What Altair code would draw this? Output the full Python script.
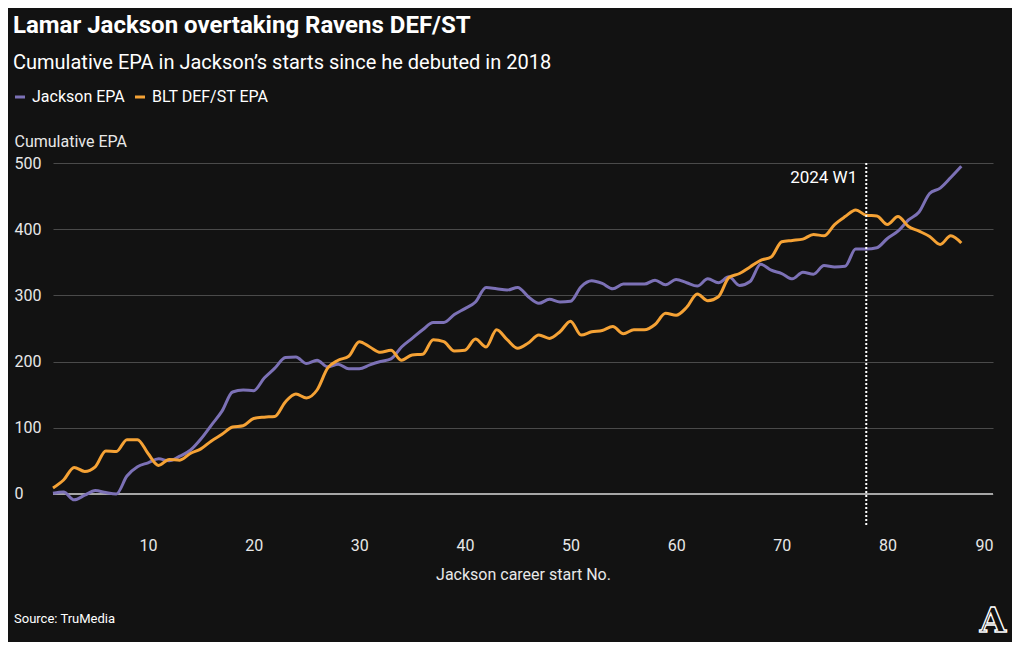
import altair as alt
import pandas as pd

starts = list(range(1, 88))

jackson_epa = [1, 3, -9, -2, 5, 2, 0, 27, 41, 47,
               53, 50, 57, 66, 83, 104, 125, 154, 157, 156,
               175, 190, 206, 207, 197, 202, 192, 196, 189, 189,
               195, 200, 204, 222, 235, 248, 259, 259, 271, 280,
               290, 312, 310, 308, 312, 298, 288, 294, 290, 291,
               313, 322, 318, 310, 317, 317, 317, 323, 316, 324,
               319, 314, 325, 319, 328, 315, 321, 347, 338, 333,
               325, 335, 332, 345, 343, 344, 370, 370, 372, 386,
               397, 414, 426, 454, 462, 478, 495]

defst_epa = [9, 21, 40, 34, 41, 65, 64, 82, 82, 61,
             43, 52, 51, 61, 68, 80, 90, 101, 103, 114,
             116, 117, 139, 151, 145, 157, 190, 202, 208, 230,
             222, 214, 217, 202, 210, 211, 233, 230, 216, 217,
             234, 222, 248, 233, 220, 228, 240, 235, 245, 261,
             240, 245, 247, 253, 242, 248, 248, 256, 273, 270,
             282, 302, 292, 298, 327, 333, 343, 353, 358, 381,
             383, 385, 392, 390, 407, 419, 429, 421, 420, 407,
             419, 404, 397, 389, 377, 390, 379]

series_names = ["Jackson EPA", "BLT DEF/ST EPA"]
series_colors = ["#7c71b6", "#f5a235"]

x_ticks = [10, 20, 30, 40, 50, 60, 70, 80, 90]
y_ticks = [0, 100, 200, 300, 400, 500]

marker_start = 78
marker_label = "2024 W1"

title_text = "Lamar Jackson overtaking Ravens DEF/ST"
subtitle_text = "Cumulative EPA in Jackson\u2019s starts since he debuted in 2018"
source_text = "Source: TruMedia"

BG = "#121212"
FONT = "Roboto"

df = pd.DataFrame({
    "start": starts * 2,
    "series": [series_names[0]] * len(starts) + [series_names[1]] * len(starts),
    "epa": jackson_epa + defst_epa,
})

x_enc = alt.X(
    "start:Q",
    scale=alt.Scale(domain=[1, 90], nice=False, zero=False),
    axis=alt.Axis(values=x_ticks, title="Jackson career start No.", grid=False,
                  ticks=False, tickSize=0, domain=False, labelPadding=10,
                  titlePadding=13, labelFontSize=16, titleFontSize=16,
                  labelColor="#e8e8e8", titleColor="#e8e8e8", titleFontWeight="normal",
                  labelFont=FONT, titleFont=FONT),
)
y_enc = alt.Y(
    "epa:Q",
    scale=alt.Scale(domain=[-50, 500], nice=False, zero=False),
    axis=alt.Axis(values=y_ticks, title="Cumulative EPA", titleAngle=0,
                  titleAlign="left", titleBaseline="middle", titleX=-39, titleY=-22,
                  labelAlign="left", labelBaseline="middle", labelPadding=39,
                  ticks=False, tickSize=0, domain=False, grid=True,
                  gridColor="#4a4a4a", gridWidth=1, labelFontSize=16,
                  titleFontSize=16, labelColor="#e8e8e8", titleColor="#e8e8e8",
                  titleFontWeight="normal", labelFont=FONT, titleFont=FONT),
)

lines = alt.Chart(df).mark_line(interpolate="monotone", strokeWidth=3).encode(
    x=x_enc,
    y=y_enc,
    color=alt.Color(
        "series:N",
        scale=alt.Scale(domain=series_names, range=series_colors),
        sort=series_names,
        legend=alt.Legend(
            title=None, orient="none", legendX=-41, legendY=-74,
            direction="horizontal", symbolType="stroke", symbolStrokeWidth=3,
            symbolSize=100, labelFontSize=16, labelColor="#ffffff", labelFont=FONT,
            labelOffset=4, columnPadding=4,
        ),
    ),
)

zero = alt.Chart(pd.DataFrame({"epa": [0]})).mark_rule(
    color="#a6a6a6", strokeWidth=2
).encode(y="epa:Q")

vrule = alt.Chart(pd.DataFrame({"start": [marker_start]})).mark_rule(
    color="#ffffff", strokeWidth=2, strokeDash=[2, 2]
).encode(x="start:Q")

vlabel = alt.Chart(pd.DataFrame({"start": [marker_start], "epa": [477], "label": [marker_label]})).mark_text(
    align="right", baseline="middle", dx=-9, fontSize=17, color="#ffffff", font=FONT
).encode(x="start:Q", y="epa:Q", text="label:N")


def header(text, x, y, size, weight="normal", font=FONT, align="left"):
    return alt.Chart(pd.DataFrame({"label": [text]})).mark_text(
        align=align, baseline="alphabetic", fontSize=size, fontWeight=weight,
        color="#ffffff", font=font
    ).encode(x=alt.value(x), y=alt.value(y), text="label:N")


title = header(title_text, -40, -130, 24, "bold")
subtitle = header(subtitle_text, -40, -94, 20)
source = header(source_text, -39, 460, 13)

logo = alt.Chart(pd.DataFrame({"label": ["A"]})).mark_text(
    align="center", baseline="alphabetic", fontSize=34, fontWeight="bold",
    font="DejaVu Serif", fill=BG, stroke="#ffffff", strokeWidth=1.3
).encode(x=alt.value(940), y=alt.value(469), text="label:N")

chart = alt.layer(zero, lines, vrule, vlabel, title, subtitle, source, logo).properties(
    width=940,
    height=364,
    padding={"left": 45, "top": 155, "right": 19, "bottom": 115},
    autosize=alt.AutoSizeParams(type="none"),
    background=BG,
).configure_view(strokeWidth=0)

chart.save("out.html", embed_options={"renderer": "svg", "actions": False})
